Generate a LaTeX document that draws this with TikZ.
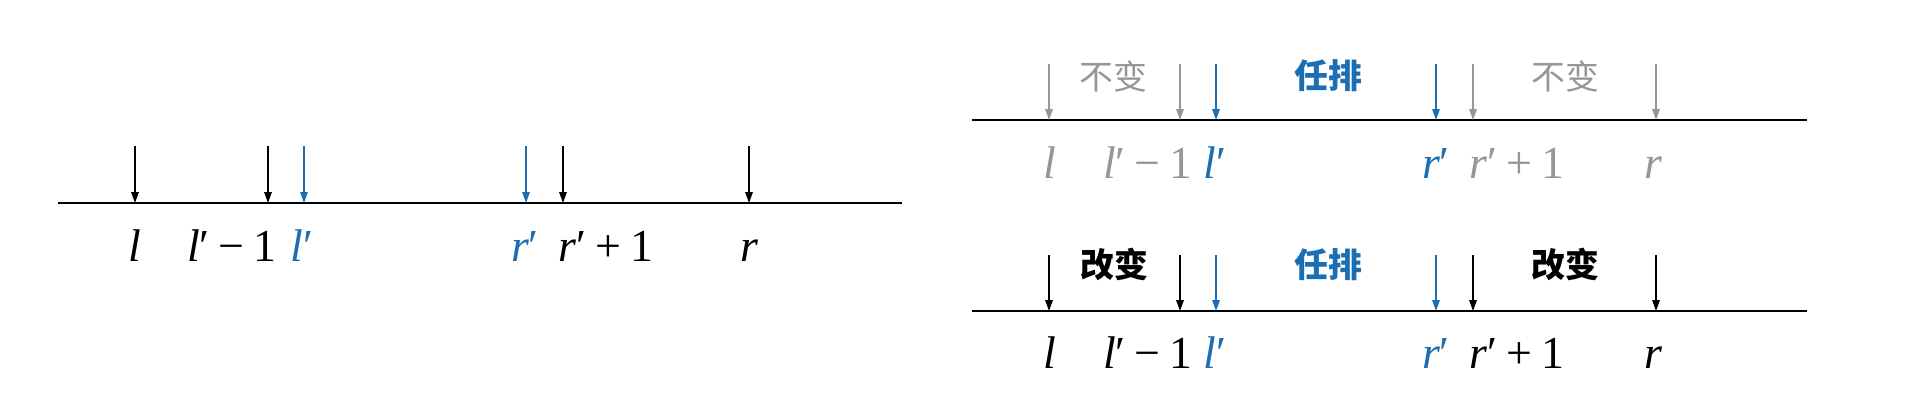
\documentclass[tikz,border=0pt]{standalone}
\usepackage{fontspec}
\setmainfont{Liberation Serif}
\newfontfamily\tnr{Liberation Serif}
\newfontfamily\cjk{Noto Sans CJK SC}
\usetikzlibrary{arrows.meta}
\definecolor{myblue}{RGB}{28,110,178}
\definecolor{mygrey}{RGB}{150,150,150}
\tikzset{
  axisline/.style={line width=1.7bp},
  ptr/.style={line width=1.5bp,-{Triangle[length=11bp,width=7.5bp]}},
  lab/.style={anchor=base,inner sep=0pt,font=\tnr\fontsize{46}{50}\selectfont},
  cn/.style={inner sep=0pt,font=\fontsize{34}{38}\selectfont\cjk},
  cnb/.style={inner sep=0pt,font=\fontsize{34}{38}\selectfont\cjk\bfseries},
}
\begin{document}
\begin{tikzpicture}[x=1bp,y=-1bp]
\useasboundingbox (0,0) rectangle (1920,407);
% ---------- left diagram ----------
\coordinate (A0) at (58,203);
\coordinate (A1) at (902,203);
\draw[axisline] (A0) -- (A1);
\foreach \n/\x/\c in {a/135/black,b/268/black,c/304/myblue,d/526/myblue,e/563/black,f/749/black}{
  \coordinate (A\n s) at (\x,146);
  \coordinate (A\n e) at (\x,203);
  \draw[ptr,\c] (A\n s) -- (A\n e);
}
\node[lab] (Ala) at (135,261) {\textit{l}};
\node[lab] (Alb) at (232,261) {\textit{l\/}′\hspace{.2em}−\hspace{.2em}1};
\node[lab,text=myblue] (Alc) at (302,261) {\textit{l\/}′};
\node[lab,text=myblue] (Ald) at (525,261) {\textit{r\/}′};
\node[lab] (Ale) at (606,261) {\textit{r\/}′\hspace{.2em}+\hspace{.2em}1};
\node[lab] (Alf) at (749,261) {\textit{r}};
% ---------- right top diagram ----------
\coordinate (B0) at (972,120);
\coordinate (B1) at (1807,120);
\draw[axisline] (B0) -- (B1);
\foreach \n/\x/\c in {a/1049/mygrey,b/1180/mygrey,c/1216/myblue,d/1436/myblue,e/1473/mygrey,f/1656/mygrey}{
  \coordinate (B\n s) at (\x,64);
  \coordinate (B\n e) at (\x,120);
  \draw[ptr,\c] (B\n s) -- (B\n e);
}
\node[cn,text=mygrey] (Bt1) at (1113,77) {不变};
\node[cnb,text=myblue] (Bt2) at (1328,76) {任排};
\node[cn,text=mygrey] (Bt3) at (1565,77) {不变};
\node[lab,text=mygrey] (Bla) at (1050,178) {\textit{l}};
\node[lab,text=mygrey] (Blb) at (1148,178) {\textit{l\/}′\hspace{.2em}−\hspace{.2em}1};
\node[lab,text=myblue] (Blc) at (1215,178) {\textit{l\/}′};
\node[lab,text=myblue] (Bld) at (1436,178) {\textit{r\/}′};
\node[lab,text=mygrey] (Ble) at (1517,178) {\textit{r\/}′\hspace{.2em}+\hspace{.2em}1};
\node[lab,text=mygrey] (Blf) at (1653,178) {\textit{r}};
% ---------- right bottom diagram ----------
\coordinate (C0) at (972,311);
\coordinate (C1) at (1807,311);
\draw[axisline] (C0) -- (C1);
\foreach \n/\x/\c in {a/1049/black,b/1180/black,c/1216/myblue,d/1436/myblue,e/1473/black,f/1656/black}{
  \coordinate (C\n s) at (\x,255);
  \coordinate (C\n e) at (\x,311);
  \draw[ptr,\c] (C\n s) -- (C\n e);
}
\node[cnb] (Ct1) at (1114,264) {改变};
\node[cnb,text=myblue] (Ct2) at (1328,265) {任排};
\node[cnb] (Ct3) at (1565,264) {改变};
\node[lab] (Cla) at (1050,368) {\textit{l}};
\node[lab] (Clb) at (1148,368) {\textit{l\/}′\hspace{.2em}−\hspace{.2em}1};
\node[lab,text=myblue] (Clc) at (1215,368) {\textit{l\/}′};
\node[lab,text=myblue] (Cld) at (1436,368) {\textit{r\/}′};
\node[lab] (Cle) at (1517,368) {\textit{r\/}′\hspace{.2em}+\hspace{.2em}1};
\node[lab] (Clf) at (1653,368) {\textit{r}};
\end{tikzpicture}
\end{document}
